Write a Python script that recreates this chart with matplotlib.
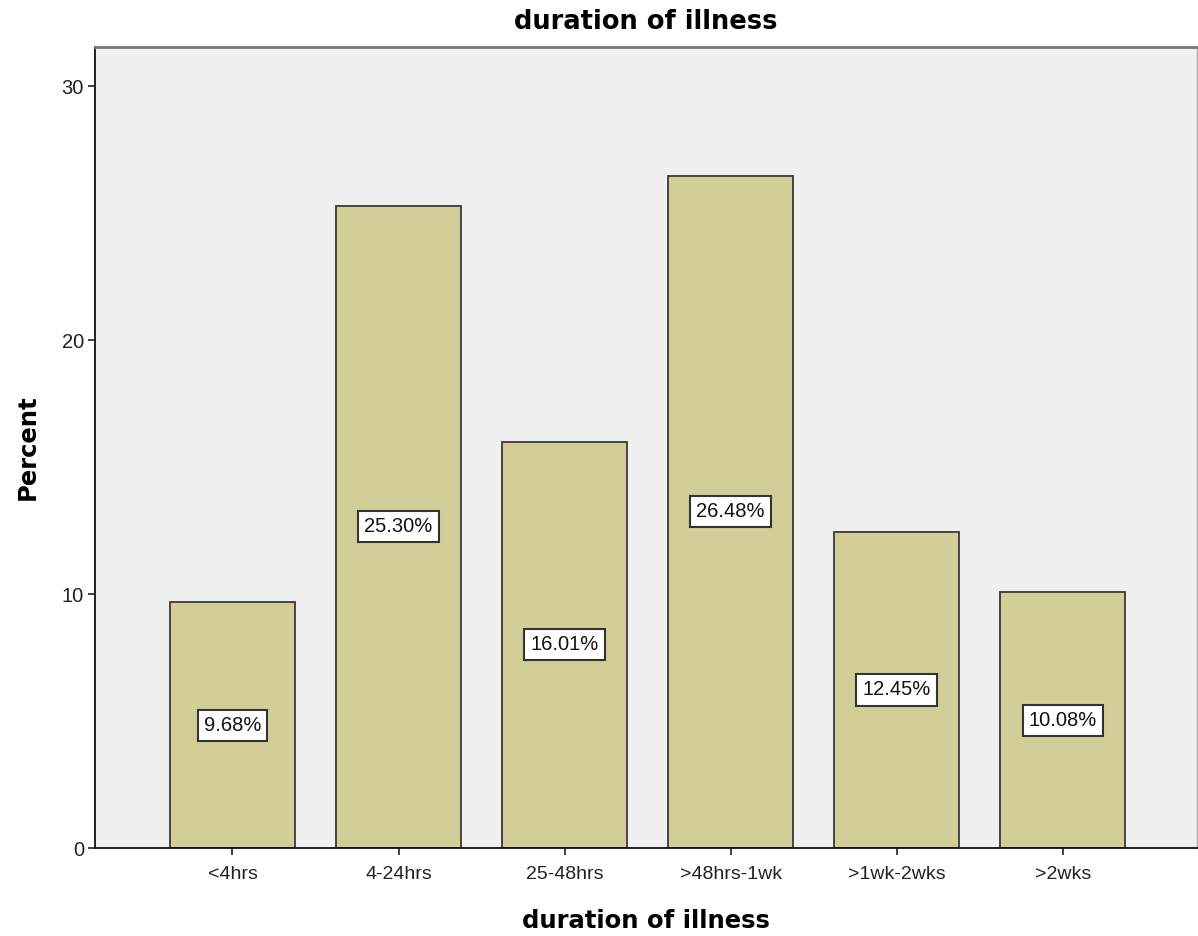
import numpy as np
import matplotlib.pyplot as plt

# duration of illness categories and percentages
categories = ['<4hrs', '4-24hrs', '25-48hrs', '>48hrs-1wk', '>1wk-2wks', '>2wks']
percent = [9.68, 25.30, 16.01, 26.48, 12.45, 10.08]
yticks = [0, 10, 20, 30]

barColor = '#D3CE97'
bgColor = '#F0F0F0'
edgeColor = '#3a3a3a'

fig = plt.figure(figsize=(11.98, 9.36), dpi=100)
ax = fig.add_axes([0.0793, 0.094, 0.92, 0.856])
ax.set_facecolor(bgColor)

x = np.arange(len(categories))
bars = ax.bar(x, percent, width=0.753, color=barColor, edgecolor=edgeColor, linewidth=1.3, zorder=2)

for xi, v in zip(x, percent):
    ax.text(xi, v / 2, '%.2f%%' % v, ha='center', va='center', fontsize=14.5,
            family='Liberation Sans', color='#111111', zorder=3,
            bbox=dict(boxstyle='square,pad=0.3', facecolor='white', edgecolor='#333333', linewidth=1.5))

ax.set_xlim(-0.828, 5.81)
ax.set_ylim(0, 31.56)
ax.set_xticks(x)
ax.set_xticklabels(categories, family='Liberation Sans', fontsize=14, color='#222222')
ax.set_yticks(yticks)
ax.set_yticklabels([str(t) for t in yticks], family='Liberation Sans', fontsize=14.5, color='#222222')
ax.tick_params(axis='both', direction='out', length=5, width=1.2, color='#222222')
ax.tick_params(axis='x', pad=8)
ax.tick_params(axis='y', pad=3)

for side in ['left', 'bottom']:
    ax.spines[side].set_linewidth(1.3)
    ax.spines[side].set_color('#111111')
ax.spines['top'].set_linewidth(2)
ax.spines['top'].set_color('#777777')
ax.spines['right'].set_linewidth(1)
ax.spines['right'].set_color('#aaaaaa')

ax.set_ylabel('Percent', fontsize=17.5, fontweight='bold', labelpad=16)
ax.set_xlabel('duration of illness', fontsize=17.5, fontweight='bold', labelpad=19)
ax.set_title('duration of illness', fontsize=18.5, fontweight='bold', pad=12.5)

fig.savefig('out.png', dpi=100)
